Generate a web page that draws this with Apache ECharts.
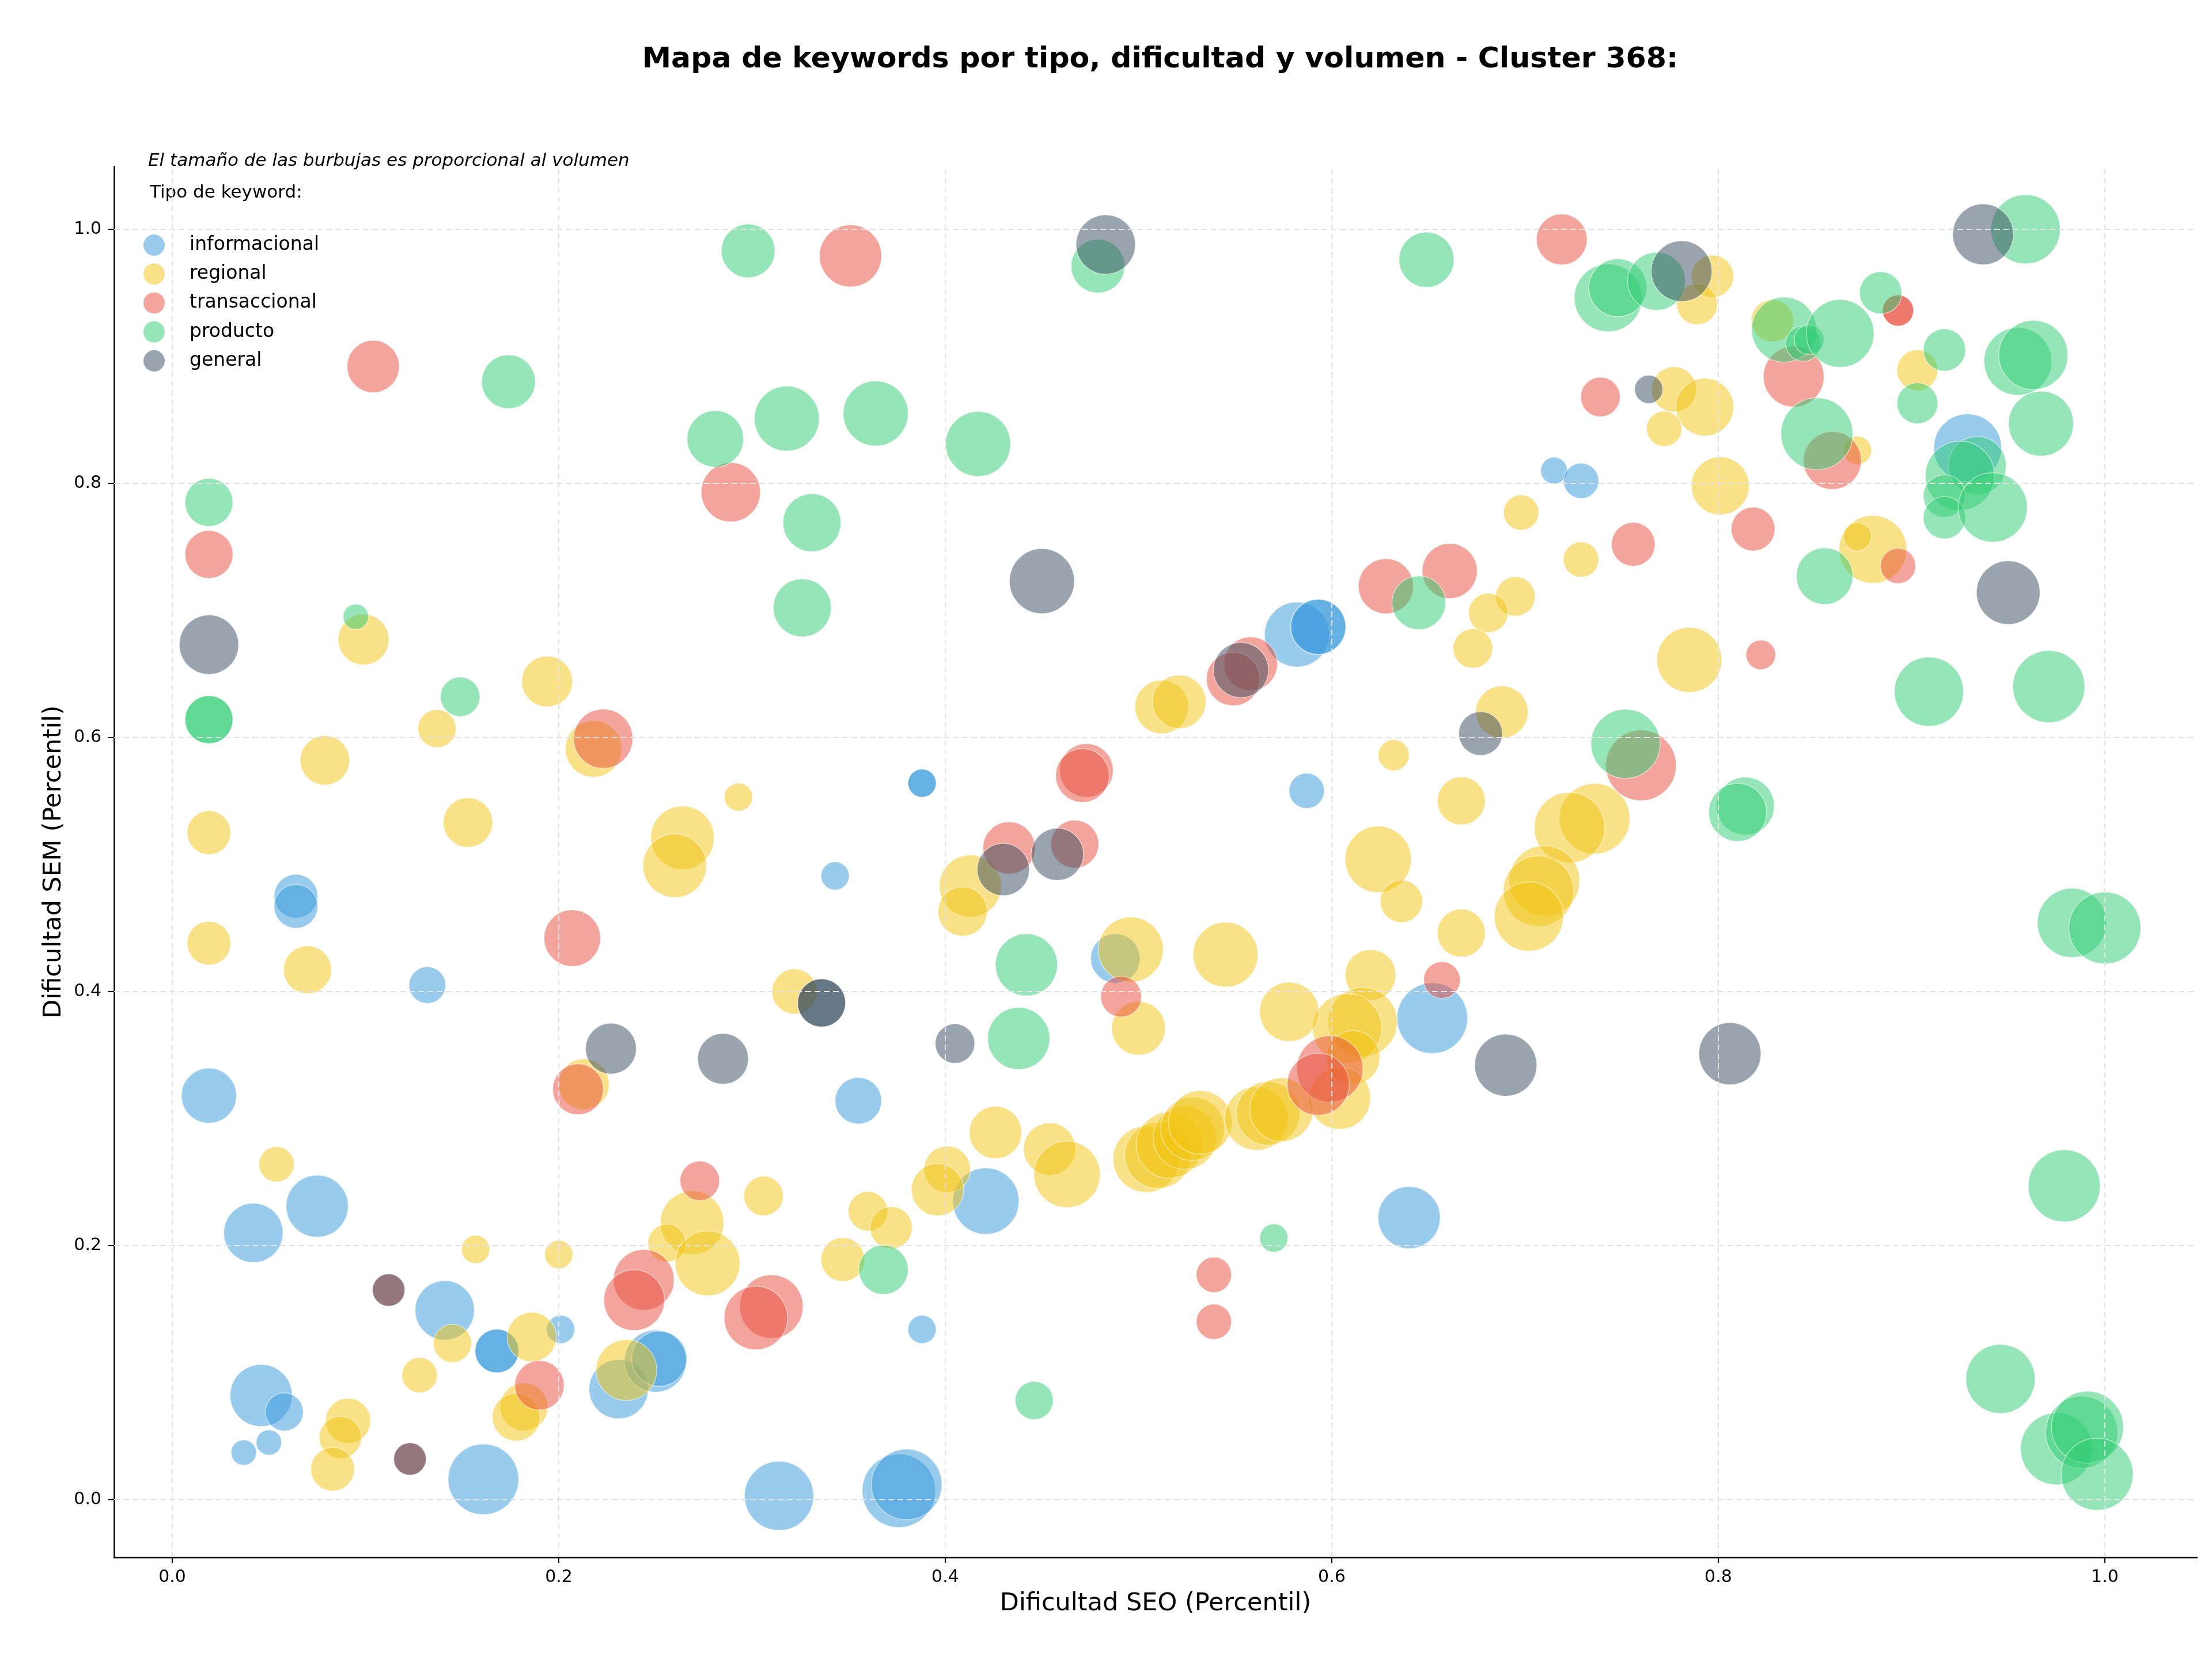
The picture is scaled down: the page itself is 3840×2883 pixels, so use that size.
<!DOCTYPE html>
<html>
<head>
<meta charset="utf-8">
<title>Mapa de keywords - Cluster 368</title>
<script src="https://cdn.jsdelivr.net/npm/echarts@6.0.0/dist/echarts.min.js"></script>
<style>
html, body { margin: 0; padding: 0; background: #fff; }
#chart { width: 3840px; height: 2883px; }
</style>
</head>
<body>
<div id="chart"></div>
<script>
/* datos: dificultad SEO (x), dificultad SEM (y), volumen (area de la burbuja) */
var tipos = ['informacional', 'regional', 'transaccional', 'producto', 'general'];
var tickValues = [0, 0.2, 0.4, 0.6, 0.8, 1.0];

var seoInfo = [0.582,0.593,0.593,0.715,0.729,0.929,0.388,0.388,0.587,0.343,0.064,0.064,0.132,0.488,0.652,0.019,0.355,0.075,0.042,0.421,0.640,0.141,0.168,0.168,0.201,0.388,0.046,0.058,0.050,0.037,0.231,0.250,0.252,0.161,0.314,0.376,0.380];
var semInfo = [0.681,0.687,0.687,0.810,0.802,0.828,0.564,0.564,0.558,0.491,0.475,0.467,0.405,0.426,0.379,0.318,0.314,0.231,0.210,0.235,0.222,0.149,0.117,0.117,0.134,0.134,0.082,0.069,0.045,0.037,0.087,0.109,0.111,0.016,0.003,0.007,0.012];
var volInfo = [2116,1521,1521,361,625,2304,400,400,625,400,961,961,676,1225,2500,1521,1089,1936,1764,2209,1936,1764,961,961,400,400,1936,729,324,324,1764,1936,1521,2500,2401,2704,2500];

var seoReg = [0.797,0.789,0.828,0.903,0.777,0.793,0.772,0.872,0.801,0.698,0.729,0.880,0.872,0.695,0.681,0.673,0.785,0.688,0.632,0.667,0.736,0.723,0.624,0.636,0.710,0.707,0.702,0.667,0.620,0.616,0.608,0.611,0.604,0.578,0.545,0.512,0.521,0.496,0.500,0.413,0.409,0.322,0.293,0.264,0.260,0.218,0.194,0.137,0.079,0.099,0.019,0.153,0.019,0.070,0.213,0.054,0.157,0.200,0.306,0.269,0.256,0.277,0.145,0.186,0.128,0.182,0.178,0.091,0.087,0.083,0.235,0.426,0.401,0.396,0.454,0.463,0.360,0.372,0.347,0.504,0.510,0.516,0.524,0.528,0.532,0.561,0.567,0.574];
var semReg = [0.963,0.941,0.928,0.889,0.874,0.860,0.843,0.826,0.798,0.777,0.740,0.748,0.758,0.711,0.698,0.670,0.661,0.620,0.586,0.550,0.536,0.529,0.504,0.471,0.487,0.479,0.459,0.446,0.413,0.376,0.371,0.348,0.316,0.384,0.429,0.624,0.628,0.433,0.371,0.483,0.463,0.400,0.553,0.521,0.499,0.591,0.644,0.607,0.582,0.677,0.525,0.533,0.438,0.417,0.327,0.264,0.197,0.193,0.239,0.218,0.202,0.186,0.123,0.128,0.098,0.073,0.065,0.062,0.049,0.024,0.102,0.289,0.260,0.244,0.276,0.256,0.227,0.214,0.189,0.268,0.271,0.279,0.285,0.292,0.297,0.300,0.304,0.307];
var volReg = [900,841,900,841,1024,1681,625,400,1681,625,625,2304,400,784,784,784,2116,1369,484,1156,2500,2500,2209,900,2500,2500,2401,1156,1296,2401,2401,1444,1936,1764,2116,1444,1444,2116,1444,1936,1225,1024,400,2025,2025,1600,1296,729,1225,1296,961,1225,961,1156,1296,625,400,400,784,2025,729,2116,729,1225,625,1156,1156,1024,900,961,1849,1369,1089,1369,1369,2209,784,900,961,2209,2209,2209,2025,2025,2025,2025,2025,2025];

var seoTrans = [0.719,0.351,0.104,0.289,0.019,0.739,0.893,0.893,0.839,0.859,0.818,0.756,0.893,0.628,0.661,0.558,0.549,0.822,0.760,0.223,0.473,0.471,0.467,0.433,0.207,0.491,0.657,0.210,0.599,0.593,0.273,0.244,0.239,0.310,0.302,0.190,0.539,0.539,0.112,0.123];
var semTrans = [0.992,0.979,0.892,0.793,0.744,0.868,0.936,0.936,0.884,0.818,0.764,0.752,0.735,0.719,0.731,0.658,0.646,0.665,0.578,0.599,0.574,0.570,0.516,0.513,0.442,0.396,0.409,0.323,0.339,0.327,0.251,0.173,0.157,0.152,0.143,0.090,0.177,0.140,0.165,0.032];
var volTrans = [1296,1936,1369,1764,1156,784,484,484,1849,1681,961,961,625,1521,1521,1444,1444,441,2500,1764,1444,1444,1156,1369,1600,841,676,1296,2209,1936,784,1849,1849,2025,2025,1225,625,625,529,529];

var seoProd = [0.298,0.479,0.649,0.743,0.748,0.768,0.959,0.884,0.834,0.844,0.847,0.863,0.917,0.903,0.955,0.963,0.967,0.851,0.934,0.925,0.917,0.917,0.942,0.855,0.174,0.281,0.318,0.364,0.417,0.331,0.326,0.019,0.095,0.019,0.019,0.149,0.645,0.909,0.971,0.752,0.814,0.810,0.983,1.000,0.442,0.438,0.368,0.570,0.446,0.979,0.946,0.975,0.988,0.991,0.996];
var semProd = [0.983,0.971,0.976,0.946,0.954,0.959,1.000,0.950,0.921,0.910,0.913,0.918,0.905,0.863,0.896,0.901,0.847,0.839,0.814,0.806,0.790,0.773,0.781,0.727,0.880,0.835,0.851,0.855,0.831,0.769,0.702,0.785,0.695,0.614,0.614,0.632,0.706,0.636,0.640,0.595,0.546,0.541,0.454,0.450,0.421,0.363,0.181,0.206,0.078,0.247,0.095,0.040,0.053,0.057,0.020];
var volProd = [1444,1444,1521,2304,1681,1681,2401,900,2116,625,441,2304,900,841,2304,2401,2116,2601,1681,2401,900,900,2401,1600,1444,1600,2116,2116,2116,1681,1681,1156,324,1156,1156,784,1444,2401,2601,2401,1681,1681,2401,2601,1936,1936,1225,400,729,2601,2401,2601,2601,2601,2601];

var seoGen = [0.483,0.781,0.937,0.764,0.450,0.950,0.019,0.553,0.677,0.458,0.430,0.336,0.336,0.227,0.285,0.405,0.690,0.806,0.112,0.123];
var semGen = [0.988,0.967,0.996,0.874,0.723,0.714,0.673,0.653,0.603,0.508,0.496,0.391,0.391,0.355,0.347,0.359,0.342,0.351,0.165,0.032];
var volGen = [1764,1849,1849,400,2116,2025,1764,1521,961,1369,1369,1156,1156,1296,1296,784,1936,1936,529,529];

var colores = ['#3498db', '#f1c40f', '#e74c3c', '#2ecc71', '#34495e'];
// color del marcador de la leyenda (alpha 0.5 sobre blanco)
var coloresLeyenda = ['#9acbed', '#f8e187', '#f3a59d', '#96e5b8', '#99a4ae'];

var fuente = 'DejaVu Sans';
var escala = 2.449; // px por unidad de raiz del volumen

function serieBurbujas(nombre, color, seo, sem, vol) {
	var datos = [];
	for (var i = 0; i < seo.length; i++) {
		datos.push([seo[i], sem[i], vol[i]]);
	}
	return {
		name: nombre,
		type: 'scatter',
		data: datos,
		z: 3,
		symbolSize: function (v) { return Math.sqrt(v[2]) * escala; },
		itemStyle: {
			color: color,
			opacity: 0.5,
			borderColor: '#ffffff',
			borderWidth: 1.5
		},
		emphasis: { disabled: true }
	};
}

// lineas de la rejilla (discontinuas)
var lineasRejilla = [];
tickValues.forEach(function (t) {
	lineasRejilla.push({ xAxis: t });
	lineasRejilla.push({ yAxis: t });
});

var textoLeyenda = {
	fontSize: 33,
	lineHeight: 37,
	color: '#000',
	fontFamily: fuente,
	padding: [0, 0, 0, 38]
};

var myChart = echarts.init(document.getElementById('chart'));
var option = {
	animation: false,
	backgroundColor: '#ffffff',
	textStyle: { fontFamily: fuente },
	grid: {
		left: 198,
		right: 26,
		top: 289,
		bottom: 180
	},
	legend: {
		orient: 'vertical',
		left: 244,
		top: 402,
		itemWidth: 37,
		itemHeight: 37,
		itemGap: 13.2,
		icon: 'circle',
		selectedMode: false,
		textStyle: textoLeyenda,
		data: tipos.map(function (t, i) {
			return {
				name: t,
				textStyle: textoLeyenda,
				itemStyle: { color: coloresLeyenda[i], opacity: 1, borderWidth: 0 }
			};
		})
	},
	xAxis: {
		type: 'value',
		min: -0.0301,
		max: 1.0477,
		name: 'Dificultad SEO (Percentil)',
		nameLocation: 'middle',
		nameGap: 59,
		nameTextStyle: { fontSize: 43, color: '#000', fontFamily: fuente },
		splitLine: { show: false },
		axisLine: { show: true, onZero: false, lineStyle: { color: '#000', width: 2.5 } },
		axisTick: { show: true, length: 10, lineStyle: { color: '#000', width: 2 }, customValues: tickValues },
		axisLabel: {
			fontSize: 30,
			color: '#000',
			margin: 20,
			customValues: tickValues,
			formatter: function (v) { return v.toFixed(1); }
		}
	},
	yAxis: {
		type: 'value',
		min: -0.0454,
		max: 1.0494,
		name: 'Dificultad SEM (Percentil)',
		nameLocation: 'middle',
		nameRotate: 90,
		nameGap: 83,
		nameTextStyle: { fontSize: 43, color: '#000', fontFamily: fuente },
		splitLine: { show: false },
		axisLine: { show: true, onZero: false, lineStyle: { color: '#000', width: 2.5 } },
		axisTick: { show: true, length: 10, lineStyle: { color: '#000', width: 2 }, customValues: tickValues },
		axisLabel: {
			fontSize: 30,
			color: '#000',
			margin: 22,
			customValues: tickValues,
			formatter: function (v) { return v.toFixed(1); }
		}
	},
	graphic: [
		{
			type: 'text',
			x: 2014,
			y: 104,
			style: {
				text: 'Mapa de keywords por tipo, dificultad y volumen - Cluster 368:',
				fontSize: 50.6,
				fontWeight: 'bold',
				fontFamily: fuente,
				fill: '#000',
				align: 'center',
				verticalAlign: 'middle'
			}
		},
		{
			type: 'text',
			x: 257,
			y: 280,
			style: {
				text: 'El tamaño de las burbujas es proporcional al volumen',
				fontSize: 31,
				fontStyle: 'italic',
				fontFamily: fuente,
				fill: '#000',
				align: 'left',
				verticalAlign: 'middle'
			}
		},
		{
			type: 'text',
			x: 260,
			y: 335,
			style: {
				text: 'Tipo de keyword:',
				fontSize: 31,
				fontFamily: fuente,
				fill: '#000',
				align: 'left',
				verticalAlign: 'middle'
			}
		}
	],
	series: [
		{
			name: 'rejilla',
			type: 'scatter',
			data: [],
			z: 1,
			silent: true,
			markLine: {
				silent: true,
				symbol: ['none', 'none'],
				label: { show: false },
				lineStyle: { color: '#e3e3e3', type: [10, 6], width: 2 },
				data: lineasRejilla
			}
		},
		serieBurbujas(tipos[0], colores[0], seoInfo, semInfo, volInfo),
		serieBurbujas(tipos[1], colores[1], seoReg, semReg, volReg),
		serieBurbujas(tipos[2], colores[2], seoTrans, semTrans, volTrans),
		serieBurbujas(tipos[3], colores[3], seoProd, semProd, volProd),
		serieBurbujas(tipos[4], colores[4], seoGen, semGen, volGen)
	]
};
myChart.setOption(option);
</script>
</body>
</html>
